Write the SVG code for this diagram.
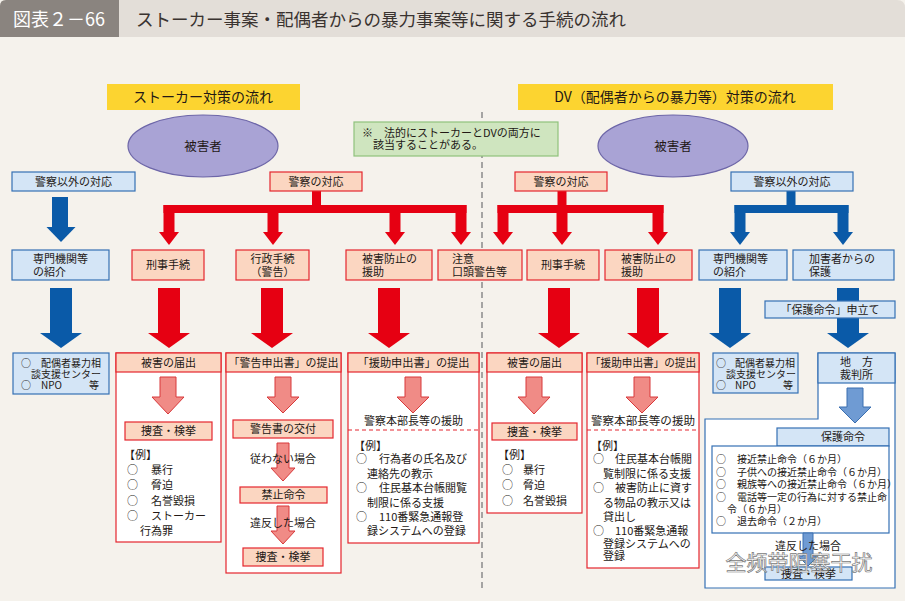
<svg xmlns="http://www.w3.org/2000/svg" width="905" height="601" viewBox="0 0 905 601">
<defs>
<style>
.t{font-family:"Noto Sans CJK JP","Noto Sans CJK SC",sans-serif;fill:#231815;font-size:11px}
.c{text-anchor:middle}
.pk{fill:#fbd6c1;stroke:#e4252e;stroke-width:1.2}
.lb{fill:#d4e5f6;stroke:#3570b4;stroke-width:1.2}
.col{fill:#fff;stroke:#e4252e;stroke-width:1.2}
.red{fill:#e60012}
.blue{fill:#0a5aa8}
.pa{fill:#f08b86;stroke:#d8383a;stroke-width:1}
.ba{fill:#6f9bd3;stroke:#3a6fb0;stroke-width:1}
.s{font-size:10px}
</style>
</defs>
<rect x="0" y="0" width="905" height="601" fill="#f5f2ec"/>
<!-- title -->
<g id="title">
<path d="M6,0 H897 Q905,0 905,8 V37 H0 V6 Q0,0 6,0 Z" fill="#e3ded8"/>
<path d="M6,0 H119 V37 H0 V6 Q0,0 6,0 Z" fill="#8a847f"/>
<text class="t" x="13" y="26" style="font-size:18px;fill:#fff">図表２－66</text>
<text class="t" x="136" y="26" style="font-size:17.5px;fill:#3a3330">ストーカー事案・配偶者からの暴力事案等に関する手続の流れ</text>
</g>
<!-- divider -->
<line x1="482" y1="112" x2="482" y2="592" stroke="#8a8a8a" stroke-width="1.5" stroke-dasharray="6,4"/>

<g id="bar-left"><rect x="107" y="84" width="193" height="26" fill="#fcd430"/><text class="t c" x="203" y="102" style="font-size:14px">ストーカー対策の流れ</text></g>
<g id="bar-right"><rect x="518" y="84" width="315" height="26" fill="#fcd430"/><text class="t c" x="675" y="102" style="font-size:14px">DV（配偶者からの暴力等）対策の流れ</text></g>

<g id="victim-left"><ellipse cx="203" cy="146" rx="75" ry="31" fill="#a9a3d5" stroke="#6d66a8" stroke-width="1.2"/><text class="t c" x="203" y="151" style="font-size:12.5px">被害者</text></g>
<g id="victim-right"><ellipse cx="673" cy="146" rx="75" ry="31" fill="#a9a3d5" stroke="#6d66a8" stroke-width="1.2"/><text class="t c" x="673" y="151" style="font-size:12.5px">被害者</text></g>

<g id="note"><rect x="354" y="122" width="204" height="34" fill="#cfe5bf" stroke="#8fc27c" stroke-width="1.2"/>
<text class="t" x="362" y="137">※　法的にストーカーとDVの両方に</text>
<text class="t" x="373" y="149">該当することがある。</text></g>

<!-- connectors -->
<g id="connectors">
<!-- left blue -->
<rect class="blue" x="52" y="197" width="16" height="30"/><polygon class="blue" points="46.5,227 75.5,227 61,242"/>
<!-- left red tree -->
<rect class="red" x="312" y="191" width="9" height="16"/>
<rect class="red" x="163.5" y="205" width="303" height="8"/>
<rect class="red" x="163.5" y="205" width="11" height="28"/><polygon class="red" points="159,232 179,232 169,245"/>
<rect class="red" x="267.5" y="205" width="11" height="28"/><polygon class="red" points="263,232 283,232 273,245"/>
<rect class="red" x="389.5" y="205" width="11" height="28"/><polygon class="red" points="385,232 405,232 395,245"/>
<rect class="red" x="455.5" y="205" width="11" height="28"/><polygon class="red" points="451,232 471,232 461,245"/>
<!-- right red tree -->
<rect class="red" x="557.5" y="191" width="9" height="16"/>
<rect class="red" x="497.5" y="205" width="166" height="8"/>
<rect class="red" x="497.5" y="205" width="11" height="28"/><polygon class="red" points="493,232 513,232 503,245"/>
<rect class="red" x="556.5" y="205" width="11" height="28"/><polygon class="red" points="552,232 572,232 562,245"/>
<rect class="red" x="652.5" y="205" width="11" height="28"/><polygon class="red" points="648,232 668,232 658,245"/>
<!-- right blue tree -->
<rect class="blue" x="786.5" y="191" width="9" height="16"/>
<rect class="blue" x="734.5" y="205" width="114" height="8"/>
<rect class="blue" x="734.5" y="205" width="11" height="28"/><polygon class="blue" points="730,232 750,232 740,245"/>
<rect class="blue" x="837.5" y="205" width="11" height="28"/><polygon class="blue" points="833,232 853,232 843,245"/>
<!-- big arrows -->
<rect class="blue" x="50" y="288" width="22" height="46"/><polygon class="blue" points="40,333 82,333 61,348"/>
<rect class="red" x="158" y="288" width="22" height="46"/><polygon class="red" points="148,333 190,333 169,348"/>
<rect class="red" x="261" y="288" width="22" height="46"/><polygon class="red" points="251,333 293,333 272,348"/>
<rect class="red" x="378" y="288" width="22" height="46"/><polygon class="red" points="368,333 410,333 389,348"/>
<rect class="red" x="548" y="288" width="22" height="46"/><polygon class="red" points="538,333 580,333 559,348"/>
<rect class="red" x="637" y="288" width="22" height="46"/><polygon class="red" points="627,333 669,333 648,348"/>
<rect class="blue" x="719" y="288" width="22" height="46"/><polygon class="blue" points="709,333 751,333 730,348"/>
<rect class="blue" x="837" y="288" width="22" height="46"/><polygon class="blue" points="827,333 869,333 848,348"/>
</g>

<!-- row1 boxes -->
<g id="nonpolice-left"><rect class="lb" x="12" y="172" width="123" height="19"/><text class="t c" x="73.5" y="186">警察以外の対応</text></g>
<g id="police-left"><rect class="pk" x="270" y="172" width="92" height="19"/><text class="t c" x="316" y="186">警察の対応</text></g>
<g id="police-right"><rect class="pk" x="515" y="172" width="92" height="19"/><text class="t c" x="561" y="186">警察の対応</text></g>
<g id="nonpolice-right"><rect class="lb" x="731" y="172" width="122" height="19"/><text class="t c" x="792" y="186">警察以外の対応</text></g>

<!-- row2 boxes -->
<g id="senmon-left"><rect class="lb" x="12" y="250" width="97" height="30"/><text class="t" x="33" y="263">専門機関等</text><text class="t" x="33" y="276">の紹介</text></g>
<g id="keiji-left"><rect class="pk" x="132" y="250" width="72" height="30"/><text class="t c" x="168" y="269">刑事手続</text></g>
<g id="gyosei"><rect class="pk" x="236" y="250" width="73" height="30"/><text class="t c" x="272.5" y="263">行政手続</text><text class="t c" x="272.5" y="276">（警告）</text></g>
<g id="higai-left"><rect class="pk" x="346" y="250" width="86" height="30"/><text class="t" x="362" y="263">被害防止の</text><text class="t" x="362" y="276">援助</text></g>
<g id="chui"><rect class="pk" x="438" y="250" width="84" height="30"/><text class="t" x="452" y="263">注意</text><text class="t" x="452" y="276">口頭警告等</text></g>
<g id="keiji-right"><rect class="pk" x="527" y="250" width="72" height="30"/><text class="t c" x="563" y="269">刑事手続</text></g>
<g id="higai-right"><rect class="pk" x="605" y="250" width="87" height="30"/><text class="t" x="621" y="263">被害防止の</text><text class="t" x="621" y="276">援助</text></g>
<g id="senmon-right"><rect class="lb" x="699" y="250" width="88" height="30"/><text class="t" x="713" y="263">専門機関等</text><text class="t" x="713" y="276">の紹介</text></g>
<g id="kagai"><rect class="lb" x="793" y="250" width="101" height="30"/><text class="t" x="809" y="263">加害者からの</text><text class="t" x="809" y="276">保護</text></g>
<g id="moushitate"><rect class="lb" x="765" y="301" width="130" height="17"/><text class="t c" x="830" y="314">「保護命令」申立て</text></g>

<!-- left blue result -->
<g id="dv-center-left"><rect class="lb" x="13" y="353" width="96" height="41"/>
<text class="t s" x="21" y="367">○</text><text class="t s" x="41" y="367">配偶者暴力相</text>
<text class="t s" x="31" y="378">談支援センター</text>
<text class="t s" x="21" y="389">○</text><text class="t s" x="41" y="389">NPO</text><text class="t s" x="89" y="389">等</text></g>

<!-- left 被害の届出 -->
<g id="todokede-left"><rect class="col" x="116" y="353" width="105" height="189"/><rect class="pk" x="116" y="353" width="105" height="19"/>
<text class="t c" x="168.5" y="367">被害の届出</text>
<path class="pa" d="M160,377 H176 V397 H184 L168,414 L152,397 H160 Z"/>
<rect class="pk" x="125" y="422" width="87" height="18"/><text class="t c" x="168.5" y="435">捜査・検挙</text>
<text class="t" x="124" y="459">【例】</text>
<text class="t" x="127" y="474">○</text><text class="t" x="151" y="474">暴行</text>
<text class="t" x="127" y="489">○</text><text class="t" x="151" y="489">脅迫</text>
<text class="t" x="127" y="505">○</text><text class="t" x="151" y="505">名誉毀損</text>
<text class="t" x="127" y="520">○</text><text class="t" x="151" y="520">ストーカー</text>
<text class="t" x="140" y="535">行為罪</text></g>

<!-- 警告申出書 -->
<g id="keikoku"><rect class="col" x="226" y="353" width="115" height="220"/><rect class="pk" x="226" y="353" width="115" height="19"/>
<text class="t c" x="283.5" y="367" textLength="110" lengthAdjust="spacingAndGlyphs">「警告申出書」の提出</text>
<path class="pa" d="M275,377 H291 V397 H299 L283,413 L267,397 H275 Z"/>
<rect class="pk" x="233" y="420" width="100" height="18"/><text class="t c" x="283" y="433">警告書の交付</text>
<path class="pa" d="M277,443 H289 V468 H295 L283,481 L271,468 H277 Z"/>
<text class="t c" x="283" y="463">従わない場合</text>
<rect class="pk" x="240" y="487" width="87" height="16"/><text class="t c" x="283.5" y="499">禁止命令</text>
<path class="pa" d="M277,506 H289 V531 H295 L283,544 L271,531 H277 Z"/>
<text class="t c" x="283" y="527">違反した場合</text>
<rect class="pk" x="243" y="548" width="80" height="18"/><text class="t c" x="283" y="561">捜査・検挙</text></g>

<!-- 援助申出書 left -->
<g id="enjo-left"><rect class="col" x="348" y="353" width="131" height="190"/><rect class="pk" x="348" y="353" width="131" height="19"/>
<text class="t c" x="413.5" y="367" textLength="112" lengthAdjust="spacingAndGlyphs">「援助申出書」の提出</text>
<path class="pa" d="M405,377 H421 V397 H429 L413,413 L397,397 H405 Z"/>
<text class="t c" x="413.5" y="425">警察本部長等の援助</text>
<line x1="348" y1="430" x2="479" y2="430" stroke="#e4252e" stroke-width="1" stroke-dasharray="4,3"/>
<text class="t" x="354" y="450">【例】</text>
<text class="t" x="356" y="463">○</text><text class="t" x="379" y="463">行為者の氏名及び</text>
<text class="t" x="367" y="478">連絡先の教示</text>
<text class="t" x="356" y="492">○</text><text class="t" x="379" y="492">住民基本台帳閲覧</text>
<text class="t" x="367" y="507">制限に係る支援</text>
<text class="t" x="356" y="521">○</text><text class="t" x="379" y="521">110番緊急通報登</text>
<text class="t" x="367" y="535">録システムへの登録</text></g>

<!-- right 被害の届出 -->
<g id="todokede-right"><rect class="col" x="487" y="353" width="95" height="160"/><rect class="pk" x="487" y="353" width="95" height="19"/>
<text class="t c" x="534.5" y="367">被害の届出</text>
<path class="pa" d="M526,377 H542 V397 H550 L534,414 L518,397 H526 Z"/>
<rect class="pk" x="492" y="423" width="85" height="17"/><text class="t c" x="534.5" y="436">捜査・検挙</text>
<text class="t" x="498" y="459">【例】</text>
<text class="t" x="502" y="474">○</text><text class="t" x="523" y="474">暴行</text>
<text class="t" x="502" y="489">○</text><text class="t" x="523" y="489">脅迫</text>
<text class="t" x="502" y="505">○</text><text class="t" x="523" y="505">名誉毀損</text></g>

<!-- right 援助申出書 -->
<g id="enjo-right"><rect class="col" x="587" y="353" width="112" height="215"/><rect class="pk" x="587" y="353" width="112" height="19"/>
<text class="t c" x="643" y="367" textLength="106" lengthAdjust="spacingAndGlyphs">「援助申出書」の提出</text>
<path class="pa" d="M634,377 H650 V397 H658 L642,413 L626,397 H634 Z"/>
<text class="t c" x="643" y="425" textLength="104" lengthAdjust="spacingAndGlyphs">警察本部長等の援助</text>
<line x1="587" y1="430" x2="699" y2="430" stroke="#e4252e" stroke-width="1" stroke-dasharray="4,3"/>
<text class="t" x="591" y="450">【例】</text>
<text class="t" x="593" y="463">○</text><text class="t" x="615" y="463">住民基本台帳閲</text>
<text class="t" x="603" y="478">覧制限に係る支援</text>
<text class="t" x="593" y="492">○</text><text class="t" x="615" y="492">被害防止に資す</text>
<text class="t" x="603" y="507">る物品の教示又は</text>
<text class="t" x="603" y="521">貸出し</text>
<text class="t" x="593" y="535">○</text><text class="t" x="615" y="535">110番緊急通報</text>
<text class="t" x="603" y="548">登録システムへの</text>
<text class="t" x="603" y="560">登録</text></g>

<!-- right blue result -->
<g id="dv-center-right"><rect class="lb" x="713" y="353" width="85" height="40"/>
<text class="t s" x="716" y="367">○</text><text class="t s" x="735" y="367">配偶者暴力相</text>
<text class="t s" x="726" y="378">談支援センター</text>
<text class="t s" x="716" y="389">○</text><text class="t s" x="735" y="389">NPO</text><text class="t s" x="783" y="389">等</text></g>

<!-- court & protection order -->
<g id="court"><path d="M818,353 H895 V588 H705 V419 H818 Z" fill="#fff" stroke="#3570b4" stroke-width="1.2"/>
<rect class="lb" x="818" y="353" width="77" height="30"/>
<text class="t c" x="856.5" y="366">地　方</text>
<text class="t c" x="856.5" y="379">裁判所</text>
<path class="ba" d="M847,388 H863 V407 H871 L855,423 L839,407 H847 Z"/></g>
<g id="hogo"><rect class="lb" x="777" y="428" width="112" height="18"/><text class="t c" x="843" y="441">保護命令</text>
<rect x="712" y="446" width="177" height="87" fill="#fff" stroke="#3570b4" stroke-width="1.2"/>
<text class="t s" x="716" y="463">○</text><text class="t s" x="737" y="463">接近禁止命令（６か月）</text>
<text class="t s" x="716" y="476">○</text><text class="t s" x="737" y="476">子供への接近禁止命令（６か月）</text>
<text class="t s" x="716" y="488">○</text><text class="t s" x="737" y="488">親族等への接近禁止命令（６か月）</text>
<text class="t s" x="716" y="501">○</text><text class="t s" x="737" y="501">電話等一定の行為に対する禁止命</text>
<text class="t s" x="727" y="513">令（６か月）</text>
<text class="t s" x="716" y="525">○</text><text class="t s" x="737" y="525">退去命令（２か月）</text>
<path class="ba" d="M803,533 H813 V556 H818 L808,566 L798,556 H803 Z"/>
<text class="t c" x="808" y="550">違反した場合</text>
<rect class="lb" x="765" y="567" width="87" height="13"/><text class="t c" x="808.5" y="578">捜査・検挙</text></g>

<!-- watermark -->
<g id="watermark">
<text x="799" y="570" text-anchor="middle" style="font-family:'Noto Sans CJK SC',sans-serif;font-size:21px;fill:#ffffff;fill-opacity:0.85;stroke:#7a7a7a;stroke-width:0.7">全频带阻塞干扰</text>
</g>
</svg>
